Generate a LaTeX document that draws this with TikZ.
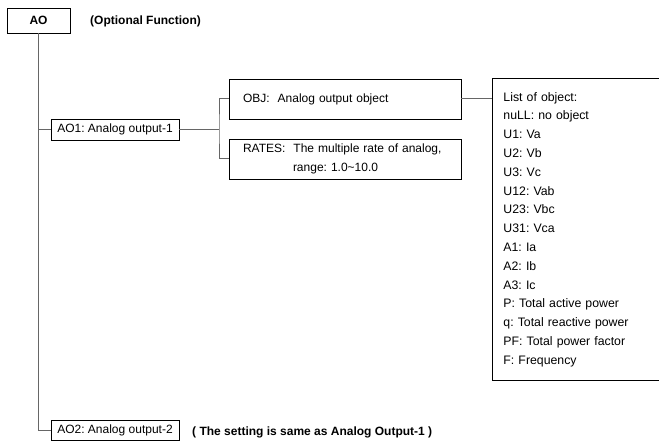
\documentclass[tikz,border=0pt]{standalone}
\usepackage{fontspec}
\setmainfont{Liberation Sans}
\usetikzlibrary{positioning}
\definecolor{linkgray}{HTML}{666666}
\frenchspacing

\begin{document}
\begin{tikzpicture}[
    x=1pt, y=-1pt,
    box/.style={draw, line width=0.9pt, inner sep=0pt,
        font=\fontsize{12}{14}\selectfont},
    title/.style={inner sep=0pt, font=\fontsize{12}{14}\selectfont\bfseries},
    link/.style={draw=linkgray, line width=1pt},
]
\useasboundingbox (0,0) rectangle (659,441);
\clip (0,0) rectangle (659,441);

% --- Top of the tree ---
\node[box, minimum width=63pt, minimum height=25pt,
    font=\fontsize{12}{14}\selectfont\bfseries] (ao) at (38.5, 20.5) {AO};
\node[title, anchor=west] (optional) at (90, 21) {(Optional Function)};

% --- First output and its settings ---
\node[box, minimum width=128pt, minimum height=21pt] (ao1) at (115, 129.5)
    {AO1: Analog output-1};
\node[box, minimum width=232pt, minimum height=40pt, text width=204pt,
    align=left] (obj) at (345, 99) {OBJ:\ \ Analog output object};
\node[box, minimum width=232pt, minimum height=40pt, text width=204pt,
    align=left, font=\fontsize{12}{19}\selectfont] (rates) at (345, 159)
    {RATES:\ \ The multiple rate of analog,\\
     \hspace*{50pt}range: 1.0\textasciitilde 10.0};

% List of objects (runs off the right edge)
\node[box, anchor=north west, minimum width=175pt, minimum height=302pt,
    text width=153pt, align=left, font=\fontsize{12.3}{18.8}\selectfont]
    (objlist) at (492, 78) {%
List of object:\\
nuLL: no object\\
U1: Va\\
U2: Vb\\
U3: Vc\\
U12: Vab\\
U23: Vbc\\
U31: Vca\\
A1: Ia\\
A2: Ib\\
A3: Ic\\
P: Total active power\\
q: Total reactive power\\
PF: Total power factor\\
F: Frequency};

% --- Second output ---
\node[box, minimum width=128pt, minimum height=20pt] (ao2) at (115, 430.5)
    {AO2: Analog output-2};
\node[title, anchor=west] (same) at (192, 432)
    {( The setting is same as Analog Output-1 )};

% --- Connectors ---
\coordinate (fork) at (219, 129.5);
\draw[link] (ao.south) -- (ao.south |- ao2.west) -- (ao2.west);
\draw[link] (ao.south |- ao1.west) -- (ao1.west);
\draw[link] (ao1.east) -- (fork);
\draw[link] (obj.west) -| (fork) |- (rates.west);
\draw[link] (obj.east) -- (obj.east -| objlist.west);

\end{tikzpicture}
\end{document}
